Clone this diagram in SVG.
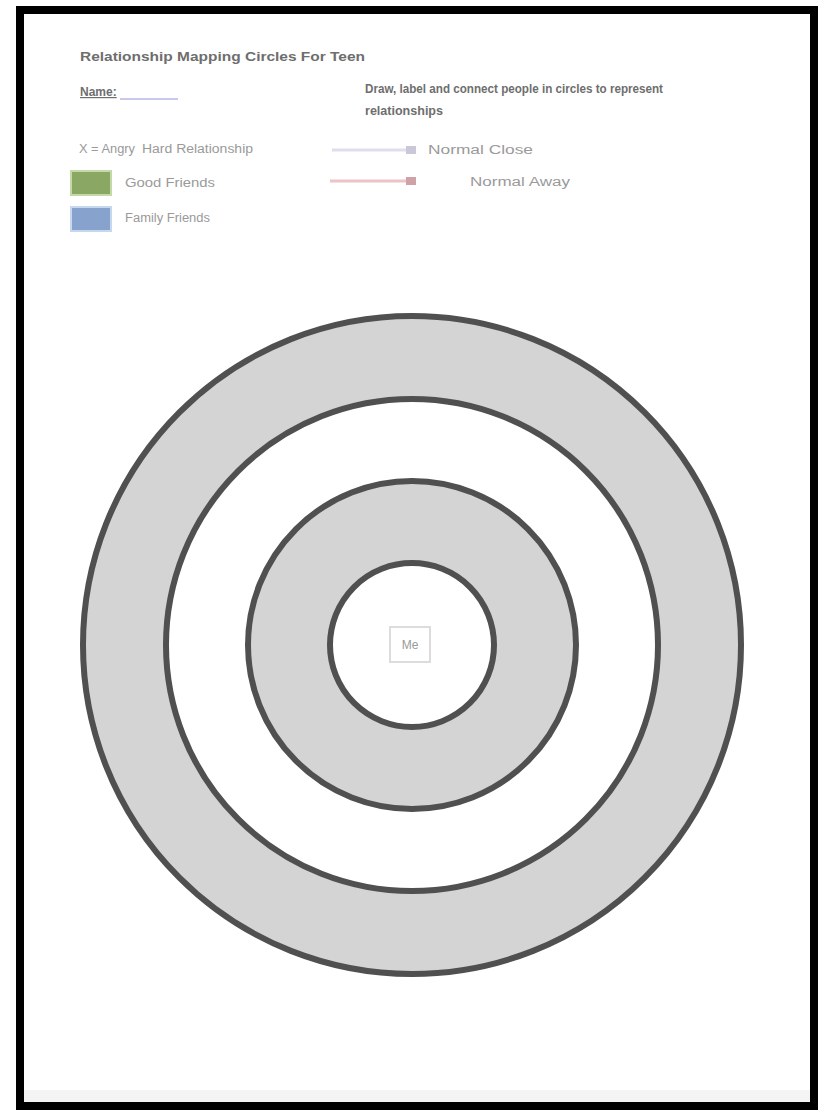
<svg xmlns="http://www.w3.org/2000/svg" width="826" height="1114" viewBox="0 0 826 1114">
<style>
.t{font-family:"Liberation Sans",Arial,sans-serif;fill:#9a9a9a;font-size:12px}
.h{font-family:"Liberation Sans",Arial,sans-serif;fill:#6e6e6e;font-size:12px;font-weight:bold}
.ring{stroke:#505050;stroke-width:6}
</style>
<defs>
<marker id="mb" markerUnits="userSpaceOnUse" markerWidth="10" markerHeight="8" refX="9" refY="4" orient="auto"><rect x="0" y="0" width="10" height="8" fill="#c8c8d8"/></marker>
<marker id="mr" markerUnits="userSpaceOnUse" markerWidth="10" markerHeight="8" refX="9" refY="4" orient="auto"><rect x="0" y="0" width="10" height="8" fill="#cfa2a8"/></marker>
</defs>
<rect x="0" y="0" width="826" height="1114" fill="#ffffff"/>
<rect x="24" y="1090" width="786" height="12" fill="#f4f4f4"/>
<rect x="20" y="10" width="794" height="1096" fill="none" stroke="#000" stroke-width="8"/>
<g id="header">
<text class="h" x="80" y="61" textLength="285" lengthAdjust="spacingAndGlyphs">Relationship Mapping Circles For Teen</text>
<text class="h" x="80" y="96" text-decoration="underline">Name:</text>
<line x1="120" y1="99" x2="178" y2="99" stroke="#c8c8ec" stroke-width="2"/>
<text class="h" x="365" y="93" textLength="298" lengthAdjust="spacingAndGlyphs">Draw, label and connect people in circles to represent</text>
<text class="h" x="365" y="115" textLength="78" lengthAdjust="spacingAndGlyphs">relationships</text>
</g>
<g id="legend">
<text class="t" x="79" y="153" textLength="56" lengthAdjust="spacingAndGlyphs">X = Angry</text>
<text class="t" x="142" y="153" textLength="111" lengthAdjust="spacingAndGlyphs">Hard Relationship</text>
<rect x="71" y="171" width="40" height="24" fill="#8aa864" stroke="#c4d8a8" stroke-width="2"/>
<text class="t" x="125" y="187" textLength="90" lengthAdjust="spacingAndGlyphs">Good Friends</text>
<rect x="71" y="207" width="40" height="24" fill="#87a2cc" stroke="#c6d8ee" stroke-width="2"/>
<text class="t" x="125" y="222" textLength="85" lengthAdjust="spacingAndGlyphs">Family Friends</text>
<text class="t" x="428" y="154" textLength="105" lengthAdjust="spacingAndGlyphs">Normal Close</text>
<text class="t" x="470" y="186" textLength="100" lengthAdjust="spacingAndGlyphs">Normal Away</text>
</g>
<g id="connectors">
<line x1="332" y1="150" x2="415" y2="150" stroke="#dde0ec" stroke-width="3" marker-end="url(#mb)"/>
<line x1="330" y1="181" x2="415" y2="181" stroke="#ecc4c8" stroke-width="3" marker-end="url(#mr)"/>
</g>
<g id="circles">
<circle cx="412" cy="645" r="329" fill="#d4d4d4" class="ring"/>
<circle cx="412" cy="645" r="246" fill="#ffffff" class="ring"/>
<circle cx="412" cy="645" r="164" fill="#d4d4d4" class="ring"/>
<circle cx="412" cy="645" r="82" fill="#ffffff" class="ring"/>
</g>
<g id="me">
<rect x="390" y="627" width="40" height="35" fill="#ffffff" stroke="#dcdcdc" stroke-width="2"/>
<text class="t" x="410" y="649" text-anchor="middle" font-size="11" fill="#b0b0b0">Me</text>
</g>
</svg>
